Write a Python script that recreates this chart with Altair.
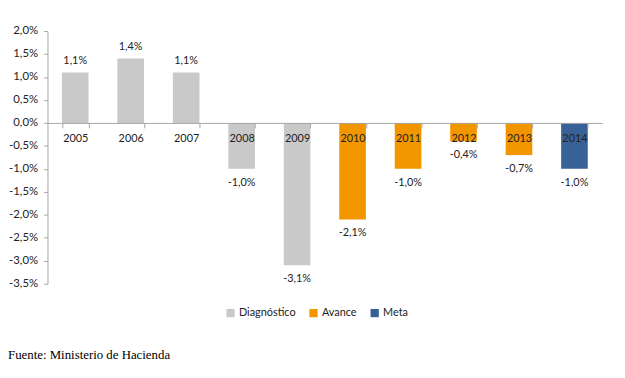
import altair as alt
import pandas as pd

years = ["2005", "2006", "2007", "2008", "2009", "2010", "2011", "2012", "2013", "2014"]
values = [1.1, 1.4, 1.1, -1.0, -3.1, -2.1, -1.0, -0.4, -0.7, -1.0]
groups = ["Diagnóstico"] * 5 + ["Avance"] * 4 + ["Meta"]
group_order = ["Diagnóstico", "Avance", "Meta"]
group_colors = ["#C9C9C9", "#F29600", "#386297"]
y_ticks = [2.0, 1.5, 1.0, 0.5, 0.0, -0.5, -1.0, -1.5, -2.0, -2.5, -3.0, -3.5]
source_text = "Fuente: Ministerio de Hacienda"


def fmt(v):
    s = f"{abs(v):.1f}".replace(".", ",") + "%"
    return ("-" if v < 0 else "") + s


df = pd.DataFrame({"year": years, "value": values, "group": groups,
                   "label": [fmt(v) for v in values]})

W, H = 562, 256
zero_y = H * 2.0 / 5.5

FONT = "Lato"

xenc = alt.X("year:N", sort=years,
             scale=alt.Scale(paddingInner=0.52, paddingOuter=0.26),
             axis=alt.Axis(title=None, orient="bottom", offset=-(H - zero_y),
                           domainColor="#A6A6A6", tickColor="#A6A6A6",
                           tickBand="extent", tickSize=5, labelPadding=5,
                           labelFont=FONT, labelFontSize=11, labelColor="#222",
                           labelAngle=0, zindex=1))
yenc = alt.Y("value:Q", scale=alt.Scale(domain=[-3.5, 2.0], nice=False, zero=False),
             axis=alt.Axis(title=None, values=y_ticks, grid=False,
                           domainColor="#A6A6A6", tickColor="#A6A6A6",
                           tickSize=4, labelPadding=6, labelOverlap=False,
                           labelBound=False, labelFlush=False,
                           labelFont=FONT, labelFontSize=11.5, labelColor="#222",
                           labelExpr="(datum.value < 0 ? '-' : '') + replace(format(abs(datum.value), '.1f'), '.', ',') + '%'"))

base = alt.Chart(df).encode(x=xenc, y=yenc)

bars = base.mark_bar().encode(
    color=alt.Color("group:N", sort=group_order,
                    scale=alt.Scale(domain=group_order, range=group_colors),
                    legend=alt.Legend(title=None, orient="none", direction="horizontal",
                                      legendX=180, legendY=280,
                                      symbolType="square", symbolSize=70,
                                      symbolStrokeWidth=0,
                                      labelFont=FONT, labelFontSize=11, labelColor="#222",
                                      columnPadding=12, labelOffset=3)),
)

pos_labels = base.transform_filter("datum.value >= 0").mark_text(
    font=FONT, fontSize=11, color="#222", dy=-12
).encode(text="label:N")

neg_labels = base.transform_filter("datum.value < 0").mark_text(
    font=FONT, fontSize=11, color="#222", dy=14
).encode(text="label:N")

src = alt.Chart(pd.DataFrame({"t": [source_text]})).mark_text(
    font="Liberation Serif", fontSize=13, color="#000", align="left", baseline="middle"
).encode(x=alt.value(-40), y=alt.value(328), text="t:N")

chart = alt.layer(bars, pos_labels, neg_labels, src).properties(
    width=W, height=H,
    autosize=alt.AutoSizeParams(type="none"),
    padding={"left": 40, "top": 21, "right": 15, "bottom": 80},
).configure_view(stroke=None)

chart.save("out.html", embed_options={"renderer": "svg", "actions": False})
